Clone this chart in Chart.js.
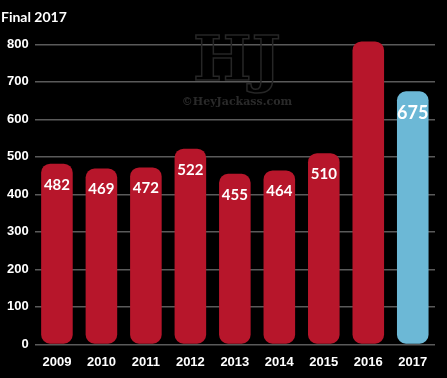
<!DOCTYPE html>
<html><head><meta charset="utf-8">
<script src="https://cdn.jsdelivr.net/npm/chart.js@4/dist/chart.umd.min.js"></script>
<style>html,body{margin:0;padding:0;background:#000;}#wrap{width:447px;height:378px;position:relative;}</style>
</head><body><div id="wrap"><canvas id="c" width="447" height="378"></canvas></div>
<script>
const title = "Final 2017";
const years = ["2009","2010","2011","2012","2013","2014","2015","2016","2017"];
const values = [482,469,472,522,455,464,510,808,675];
const yTicks = [0,100,200,300,400,500,600,700,800];
const colors = years.map((y,i)=> i===years.length-1 ? "#6cb8d6" : "#b7162b");

const labelPlugin = {
  id:'labels',
  beforeDatasetsDraw(chart){
    const ctx = chart.ctx;
    ctx.save();
    ctx.textAlign='center'; ctx.textBaseline='middle';
    ctx.font='bold 62px "DejaVu Serif", serif';
    ctx.strokeStyle='#262626'; ctx.lineWidth=1.5;
    ctx.strokeText('HJ', 237, 64);
    ctx.font='bold 11px "DejaVu Serif", serif';
    ctx.fillStyle='#2a2a2a';
    ctx.fillText('©HeyJackass.com', 237, 102);
    ctx.restore();
  },
  afterDatasetsDraw(chart){
    const ctx = chart.ctx;
    const meta = chart.getDatasetMeta(0);
    ctx.save();
    ctx.fillStyle='#ffffff';
    ctx.textAlign='center'; ctx.textBaseline='middle';
    meta.data.forEach((bar,i)=>{
      if (i===7) return;
      ctx.font = i===8 ? 'bold 18px "Lato", sans-serif' : 'bold 15px "Lato", sans-serif';
      ctx.fillText(String(values[i]), bar.x, bar.y + (i===8 ? 22 : 21));
    });
    ctx.restore();
  }
};

new Chart(document.getElementById('c'), {
  type:'bar',
  data:{labels:years, datasets:[{data:values, backgroundColor:colors, borderRadius:9, borderSkipped:false, barPercentage:0.71, categoryPercentage:1.0}]},
  options:{
    responsive:false, animation:false,
    layout:{padding:{left:1,right:12,top:0,bottom:6}},
    plugins:{legend:{display:false}, tooltip:{enabled:false},
      title:{display:true, text:title, align:'start', color:'#ffffff', font:{family:'Lato', size:14, weight:'bold'}, padding:{top:9,bottom:13}}},
    scales:{
      x:{grid:{display:false}, border:{display:false}, ticks:{color:'#ffffff', font:{family:'"Liberation Sans", sans-serif', size:13, weight:'bold'}, padding:2}},
      y:{min:0, max:815, grid:{color:'#5a5a5a', lineWidth:1.5, drawTicks:false}, border:{display:false},
        afterBuildTicks(axis){ axis.ticks = yTicks.map(v=>({value:v})); },
        ticks:{color:'#ffffff', font:{family:'"Liberation Sans", sans-serif', size:13, weight:'bold'}, padding:6}}
    }
  },
  plugins:[labelPlugin]
});
</script></body></html>
